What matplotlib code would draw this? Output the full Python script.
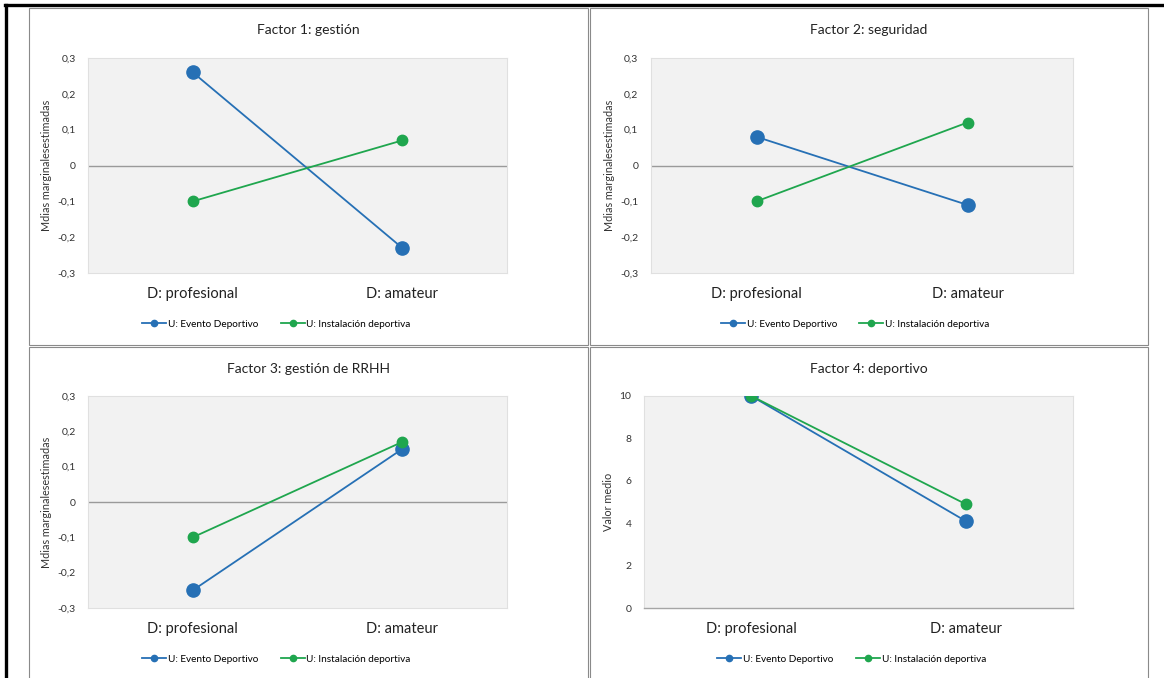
import matplotlib
matplotlib.use("Agg")
import matplotlib.pyplot as plt
from matplotlib.patches import Rectangle
from matplotlib.lines import Line2D
from matplotlib.ticker import FuncFormatter

plt.rcParams["font.family"] = ["Lato", "DejaVu Sans"]

W, H = 1164, 678
BLUE, GREEN = "#2670B5", "#1FA64E"

categories = ["D: profesional", "D: amateur"]
series_names = ["U: Evento Deportivo", "U: Instalación deportiva"]
titles = ["Factor 1: gestión", "Factor 2: seguridad",
          "Factor 3: gestión de RRHH", "Factor 4: deportivo"]
ylabels = ["Mdias marginalesestimadas", "Mdias marginalesestimadas",
           "Mdias marginalesestimadas", "Valor medio"]
evento = [[0.26, -0.23], [0.08, -0.11], [-0.25, 0.15], [10.0, 4.1]]
instalacion = [[-0.10, 0.07], [-0.10, 0.12], [-0.10, 0.17], [10.0, 4.9]]

# panel frames (px): x0, y0, x1, y1 ; plot areas (px)
frames = [(29, 8, 588, 345), (590, 8, 1148, 345),
          (29, 347, 588, 690), (590, 347, 1148, 690)]
areas = [(88, 58, 507, 273), (651, 58, 1073, 273),
         (88, 396, 507, 608), (644, 396, 1073, 608)]


def fx(px):
    return px / W


def fy(py):
    return 1 - py / H


def comma(v, _):
    if abs(v) < 1e-9:
        return "0"
    if abs(v - round(v)) < 1e-9 and abs(v) >= 1:
        return f"{int(round(v))}"
    return f"{v:.1f}".replace(".", ",")


fig = plt.figure(figsize=(W / 100, H / 100), dpi=100)

# outer black lines and panel frames
fig.add_artist(Line2D([fx(5), fx(1164)], [fy(5), fy(5)], color="black", lw=2.4))
fig.add_artist(Line2D([fx(6), fx(6)], [fy(5), fy(678)], color="black", lw=2.4))
for x0, y0, x1, y1 in frames:
    fig.add_artist(Rectangle((fx(x0), fy(y1)), fx(x1 - x0), (y1 - y0) / H,
                             fill=False, ec="#8a8a8a", lw=0.8))

for i in range(4):
    x0, y0, x1, y1 = areas[i]
    ax = fig.add_axes([fx(x0), fy(y1), fx(x1 - x0), (y1 - y0) / H])
    ax.set_facecolor("#F2F2F2")
    for s in ax.spines.values():
        s.set_color("#E0E0E0")
        s.set_linewidth(0.8)
    xs = [0, 1]
    ax.plot(xs, evento[i], color=BLUE, lw=1.3, marker="o", ms=9.5, zorder=3)
    ax.plot(xs, instalacion[i], color=GREEN, lw=1.3, marker="o", ms=7.5, zorder=4)
    ax.set_xlim(-0.5, 1.5)
    if i < 3:
        ax.set_ylim(-0.3, 0.3)
        ax.set_yticks([-0.3, -0.2, -0.1, 0, 0.1, 0.2, 0.3])
        ax.axhline(0, color="#9a9a9a", lw=1.0, zorder=1)
    else:
        ax.set_ylim(0, 10)
        ax.set_yticks([0, 2, 4, 6, 8, 10])
        ax.spines["bottom"].set_color("#A6A6A6")
        ax.spines["bottom"].set_linewidth(1.0)
    ax.yaxis.set_major_formatter(FuncFormatter(comma))
    ax.set_xticks(xs)
    ax.set_xticklabels(categories, fontsize=10.5, color="#222222")
    ax.tick_params(axis="x", length=0, pad=10)
    ax.tick_params(axis="y", length=0, pad=9, labelsize=7.5, labelcolor="#333333")
    ax.set_ylabel(ylabels[i], fontsize=7.8, color="#333333", labelpad=4)
    fx0, fy0, fx1, fy1 = frames[i]
    fig.text(fx((fx0 + fx1) / 2), fy(fy0 + 22), titles[i], ha="center", va="center",
             fontsize=10, color="#222222")
    handles = [Line2D([], [], color=BLUE, lw=1.3, marker="o", ms=4.5),
               Line2D([], [], color=GREEN, lw=1.3, marker="o", ms=4.5)]
    leg_x = (x0 + x1) / 2 - 21 if i % 2 == 0 else (x0 + x1) / 2 - 7
    fig.legend(handles, series_names, loc="center", ncol=2, frameon=False,
               fontsize=7.2, handlelength=2.4, handletextpad=0.2, columnspacing=2.2,
               bbox_to_anchor=(fx(leg_x), fy(y1 + 51)))

fig.savefig("out.png", dpi=100)
